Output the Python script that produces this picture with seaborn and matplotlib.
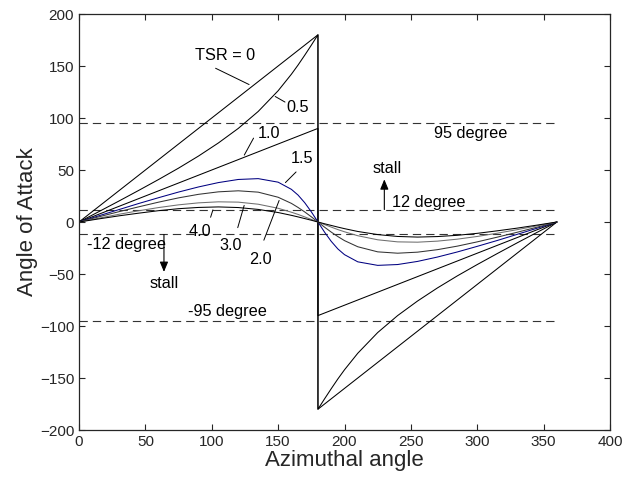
import pandas as pd
import seaborn as sns
import matplotlib.pyplot as plt

# Azimuthal angle samples (180 appears twice: before / after the jump)
theta = [0, 15, 30, 45, 60, 75, 90, 105, 120, 135, 150, 160, 165, 170, 175, 180,
         180, 185, 190, 195, 200, 210, 225, 240, 255, 270, 285, 300, 315, 330, 345, 360]

# Angle of attack for each tip speed ratio
aoa_00 = [0, 15, 30, 45, 60, 75, 90, 105, 120, 135, 150, 160, 165, 170, 175, 180,
          -180, -175, -170, -165, -160, -150, -135, -120, -105, -90, -75, -60, -45, -30, -15, 0]
aoa_05 = [0, 10.0, 20.1, 30.4, 40.9, 51.8, 63.4, 76.0, 90.0, 106.3, 126.2, 142.1, 150.9, 160.3, 170.0, 180,
          -180, -170.0, -160.3, -150.9, -142.1, -126.2, -106.3, -90.0, -76.0, -63.4, -51.8, -40.9, -30.4, -20.1, -10.0, 0]
aoa_10 = [0, 7.5, 15, 22.5, 30, 37.5, 45, 52.5, 60, 67.5, 75, 80, 82.5, 85, 87.5, 90,
          -90, -87.5, -85, -82.5, -80, -75, -67.5, -60, -52.5, -45, -37.5, -30, -22.5, -15, -7.5, 0]
aoa_15 = [0, 6.0, 11.9, 17.8, 23.4, 28.8, 33.7, 37.9, 40.9, 41.7, 38.3, 31.4, 25.9, 18.6, 9.8, 0,
          0, -9.8, -18.6, -25.9, -31.4, -38.3, -41.7, -40.9, -37.9, -33.7, -28.8, -23.4, -17.8, -11.9, -6.0, 0]
aoa_20 = [0, 5.0, 9.9, 14.6, 19.1, 23.2, 26.6, 29.0, 30.0, 28.7, 23.8, 17.9, 14.0, 9.7, 5.0, 0,
          0, -5.0, -9.7, -14.0, -17.9, -23.8, -28.7, -30.0, -29.0, -26.6, -23.2, -19.1, -14.6, -9.9, -5.0, 0]
aoa_30 = [0, 3.7, 7.4, 10.8, 13.9, 16.5, 18.4, 19.4, 19.1, 17.1, 13.2, 9.4, 7.3, 4.9, 2.5, 0,
          0, -2.5, -4.9, -7.3, -9.4, -13.2, -17.1, -19.1, -19.4, -18.4, -16.5, -13.9, -10.8, -7.4, -3.7, 0]
aoa_40 = [0, 3.0, 5.9, 8.5, 10.9, 12.8, 14.0, 14.5, 13.9, 12.1, 9.1, 6.4, 4.9, 3.3, 1.7, 0,
          0, -1.7, -3.3, -4.9, -6.4, -9.1, -12.1, -13.9, -14.5, -14.0, -12.8, -10.9, -8.5, -5.9, -3.0, 0]

tsr_labels = ["0", "0.5", "1.0", "1.5", "2.0", "3.0", "4.0"]
curves = [aoa_00, aoa_05, aoa_10, aoa_15, aoa_20, aoa_30, aoa_40]
line_colors = ["black", "black", "black", "#000080", "#333333", "#6e6e6e", "black"]

# stall / limit lines
limit_levels = [95, 12, -12, -95]
limit_span = [0, 360]

rows = []
for lab, vals in zip(tsr_labels, curves):
    for i, (t, a) in enumerate(zip(theta, vals)):
        rows.append({"TSR": lab, "theta": t, "aoa": a, "order": i})
df = pd.DataFrame(rows)

lim_rows = []
for lev in limit_levels:
    for x in limit_span:
        lim_rows.append({"level": str(lev), "theta": x, "aoa": lev})
df_lim = pd.DataFrame(lim_rows)

sns.set_style("ticks")
plt.rcParams["font.family"] = ["Liberation Sans", "DejaVu Sans"]
plt.rcParams["lines.scale_dashes"] = False

fig = plt.figure(figsize=(6.34, 4.84), dpi=100)
ax = fig.add_axes([79 / 634, 54 / 484, 531 / 634, 416 / 484])

sns.lineplot(data=df_lim, x="theta", y="aoa", units="level", estimator=None,
             color="#333333", linewidth=0.8, ax=ax, legend=False)
for ln in ax.get_lines():
    ln.set_linestyle((0, (6, 3.6)))

sns.lineplot(data=df, x="theta", y="aoa", hue="TSR", hue_order=tsr_labels,
             palette=dict(zip(tsr_labels, line_colors)), units="TSR",
             estimator=None, sort=False, linewidth=0.75, ax=ax, legend=False)

ax.set_xlim(0, 400)
ax.set_ylim(-200, 200)
ax.set_xticks(range(0, 401, 50))
ax.set_yticks(range(-200, 201, 50))
ax.tick_params(direction="in", top=True, right=True, labelsize=11, length=4, width=0.8)
for s in ax.spines.values():
    s.set_linewidth(0.9)
ax.set_xlabel("Azimuthal angle", fontsize=16, labelpad=1)
ax.set_ylabel("Angle of Attack", fontsize=16, labelpad=1)

tk = dict(fontsize=11.7, color="black")
arr = dict(arrowstyle="-", color="black", lw=0.7)

# curve labels with leader lines
ax.text(110, 160, "TSR = 0", ha="center", va="center", **tk)
ax.annotate("", xy=(130, 131), xytext=(101, 149), arrowprops=arr)
ax.text(165, 110, "0.5", ha="center", va="center", **tk)
ax.annotate("", xy=(146, 122), xytext=(157, 114), arrowprops=arr)
ax.text(143, 85, "1.0", ha="center", va="center", **tk)
ax.annotate("", xy=(123.5, 62), xytext=(132.5, 83), arrowprops=arr)
ax.text(168, 61, "1.5", ha="center", va="center", **tk)
ax.annotate("", xy=(154, 36), xytext=(165, 50), arrowprops=arr)
ax.text(91, -9, "4.0", ha="center", va="center", **tk)
ax.annotate("", xy=(101.5, 14.2), xytext=(98.5, 2), arrowprops=arr)
ax.text(114.5, -23, "3.0", ha="center", va="center", **tk)
ax.annotate("", xy=(125, 18.5), xytext=(119, -8), arrowprops=arr)
ax.text(137, -36, "2.0", ha="center", va="center", **tk)
ax.annotate("", xy=(151.5, 23.2), xytext=(138.5, -20), arrowprops=arr)

# limit annotations
ax.text(295, 85, "95 degree", ha="center", va="center", **tk)
ax.text(112, -86, "-95 degree", ha="center", va="center", **tk)
ax.text(236, 19, "12 degree", ha="left", va="center", **tk)
ax.text(6, -22, "-12 degree", ha="left", va="center", **tk)
ax.text(232.5, 51, "stall", ha="center", va="center", **tk)
ax.text(64, -59, "stall", ha="center", va="center", **tk)
head = dict(arrowstyle="-|>,head_width=0.25,head_length=0.6", color="black", lw=0.8,
            shrinkA=0, shrinkB=0)
ax.annotate("", xy=(230, 41), xytext=(230, 12), arrowprops=head)
ax.annotate("", xy=(64, -48), xytext=(64, -12), arrowprops=head)

fig.savefig("out.png", dpi=100)
